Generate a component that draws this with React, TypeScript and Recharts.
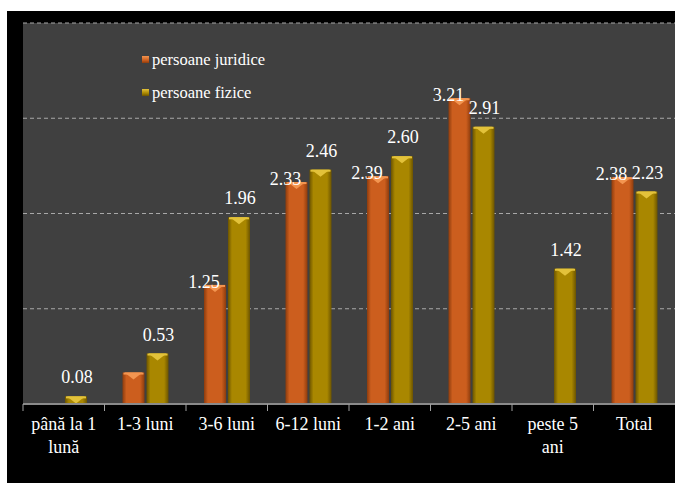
import { BarChart, Bar, XAxis, YAxis, CartesianGrid, Legend, LabelList } from 'recharts'

const categories = ['până la 1\nlună', '1-3 luni', '3-6 luni', '6-12 luni', '1-2 ani', '2-5 ani', 'peste 5\nani', 'Total']
const juridice = [null, 0.33, 1.25, 2.33, 2.39, 3.21, null, 2.38]
const fizice = [0.08, 0.53, 1.96, 2.46, 2.6, 2.91, 1.42, 2.23]
const juridiceLabels = [null, null, '1.25', '2.33', '2.39', '3.21', null, '2.38']
const fiziceLabels = ['0.08', '0.53', '1.96', '2.46', '2.60', '2.91', '1.42', '2.23']
const yTicks = [0, 1, 2, 3, 4]

const data = categories.map((name, i) => ({
  name,
  juridice: juridice[i],
  fizice: fizice[i],
  juridiceLabel: juridiceLabels[i],
  fiziceLabel: fiziceLabels[i],
}))

const W = 668
const H = 472
const MARGIN = { top: 12, right: 0, left: 16, bottom: 49 }
const BAND = (W - MARGIN.left - MARGIN.right) / categories.length
const FONT = 'Liberation Serif'

const palette = {
  juridice: { id: 'gradJur', edge: '#8e3c0d', mid: '#cc5e1e', cap: '#f39550' },
  fizice: { id: 'gradFiz', edge: '#6c5400', mid: '#a98700', cap: '#e3c23a' },
}
const legendOrder = ['juridice', 'fizice']

function makeShape(key: 'juridice' | 'fizice') {
  const p = palette[key]
  return (props: any) => {
    const { x, y, width, height } = props
    if (!height || height <= 0) return <g />
    const cap = Math.min(7, height)
    return (
      <g>
        <rect x={x} y={y} width={width} height={height} fill={`url(#${p.id})`} />
        <rect x={x + 1} y={y} width={width - 2} height={Math.min(2, height)} fill={p.cap} />
        <polygon points={`${x + 2},${y} ${x + width - 2},${y} ${x + width / 2},${y + cap}`} fill={p.cap} />
      </g>
    )
  }
}

function makeLabel(dx: number, dy: number) {
  return (props: any) => {
    const { x, y, width, value } = props
    if (!value) return null
    return (
      <text x={x + width / 2 + dx} y={y + dy} textAnchor="middle" fill="#ffffff" fontSize={18} fontFamily={FONT}>
        {value}
      </text>
    )
  }
}

function CategoryTick({ x, y, payload }: any) {
  const lines = String(payload.value).split('\n')
  return (
    <g>
      <line x1={x - BAND / 2} x2={x - BAND / 2} y1={y - 8} y2={y - 1} stroke="#a0a0a0" strokeWidth={1} />
      <text x={x} y={y} textAnchor="middle" fill="#ffffff" fontSize={18} fontFamily={FONT}>
        {lines.map((l, i) => (
          <tspan key={i} x={x} dy={i === 0 ? 18 : 23}>{l}</tspan>
        ))}
      </text>
    </g>
  )
}

function LegendBox({ payload }: any) {
  const items = legendOrder
    .map((k) => (payload || []).find((e: any) => e.dataKey === k))
    .filter(Boolean)
  return (
    <div>
      {items.map((e: any) => {
        const p = palette[e.dataKey as 'juridice' | 'fizice']
        return (
          <div key={e.dataKey} style={{ height: 33, display: 'flex', alignItems: 'center' }}>
            <span style={{
              width: 7, height: 7, marginRight: 3, display: 'inline-block',
              background: `linear-gradient(180deg, ${p.cap} 0%, ${p.mid} 60%, ${p.edge} 100%)`,
            }} />
            <span style={{ color: '#ffffff', fontSize: 16.5, fontFamily: FONT }}>{e.value}</span>
          </div>
        )
      })}
    </div>
  )
}

export default function App() {
  return (
    <div style={{ position: 'fixed', left: 0, top: 0, width: 675, height: 483, background: '#ffffff', overflow: 'hidden' }}>
      <div style={{ position: 'absolute', left: 7, top: 11, width: W, height: H, background: '#000000' }}>
        <BarChart width={W} height={H} data={data} margin={MARGIN} barSize={22} barGap={2}>
          <defs>
            {Object.values(palette).map((p) => (
              <linearGradient key={p.id} id={p.id} x1="0" y1="0" x2="1" y2="0">
                <stop offset="0%" stopColor={p.edge} />
                <stop offset="18%" stopColor={p.mid} />
                <stop offset="80%" stopColor={p.mid} />
                <stop offset="100%" stopColor={p.edge} />
              </linearGradient>
            ))}
          </defs>
          <CartesianGrid vertical={false} fill="#404040" stroke="#a8a8a8" strokeDasharray="4 3" />
          <YAxis hide domain={[0, 4]} ticks={yTicks} />
          <XAxis
            dataKey="name"
            interval={0}
            tickLine={false}
            tickSize={6}
            tickMargin={2}
            height={30}
            axisLine={{ stroke: '#8a8a8a', strokeWidth: 2 }}
            tick={<CategoryTick />}
          />
          <Legend
            layout="vertical"
            align="center"
            verticalAlign="middle"
            content={<LegendBox />}
            wrapperStyle={{ left: 135, top: 32, width: 200, height: 70 }}
          />
          <Bar dataKey="juridice" name="persoane juridice" shape={makeShape('juridice')} isAnimationActive={false}>
            <LabelList dataKey="juridiceLabel" content={makeLabel(-11, 3)} />
          </Bar>
          <Bar dataKey="fizice" name="persoane fizice" shape={makeShape('fizice')} isAnimationActive={false}>
            <LabelList dataKey="fiziceLabel" content={makeLabel(1, -13)} />
          </Bar>
        </BarChart>
      </div>
    </div>
  )
}
